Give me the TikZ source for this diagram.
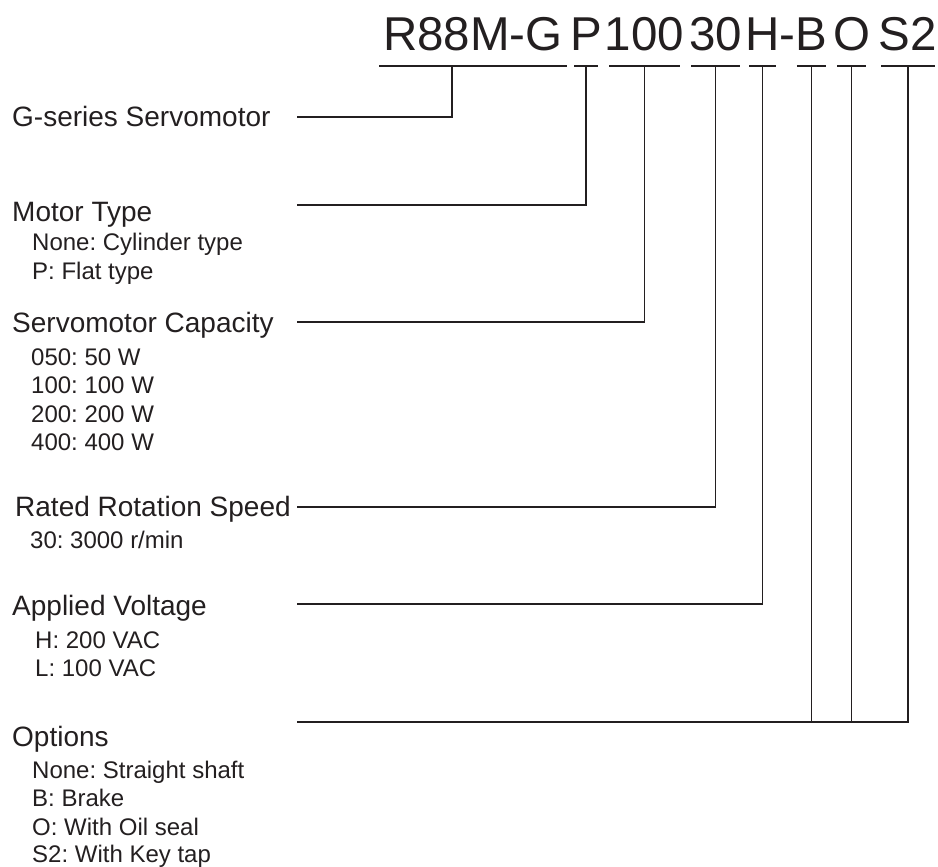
\documentclass[tikz,border=0pt]{standalone}
\usepackage{fontspec}
\setmainfont{Liberation Sans}
\usepackage{tikz}
\definecolor{ink}{HTML}{231F20}
\frenchspacing

\begin{document}
\begin{tikzpicture}[x=1pt, y=-1pt,
  code/.style={anchor=base, inner sep=0pt, font=\fontsize{47.5}{50}\selectfont, text=ink},
  lbl/.style={anchor=base west, inner sep=0pt, font=\fontsize{28}{30}\selectfont, text=ink},
  sub/.style={anchor=base west, inner sep=0pt, font=\fontsize{24}{26}\selectfont, text=ink},
  wire/.style={line width=1.1pt, draw=ink}]
			%%%%% START %%%%%
			\useasboundingbox (0,0) rectangle (938,867);
			
			% model code, one group per field, underlined
			\foreach \nm/\txt/\cx/\w in {R/R88M-G/473/188, P/P/586/24, C/100/644.5/71, S/30/715.5/49, O/O/851.5/29, T/S2/908/54}{
				\node[code] (t\nm) at (\cx,51) {\txt};
				\draw[wire] ([xshift={-0.5*\w pt}, yshift=-15pt]t\nm.base) -- ([xshift={0.5*\w pt}, yshift=-15pt]t\nm.base);
			}
			\node[code] (tHB) at (786.3,51) {H-B};
			\coordinate (tV) at ([xshift=-23.75pt]tHB.base);
			\coordinate (tB) at ([xshift=25.05pt]tHB.base);
			\draw[wire] ([xshift=-13.5pt, yshift=-15pt]tV) -- ([xshift=13.5pt, yshift=-15pt]tV);
			\draw[wire] ([xshift=-14.5pt, yshift=-15pt]tB) -- ([xshift=14.5pt, yshift=-15pt]tB);
			
			% G-series
			\node[lbl] (lblG) at (12,127) {G-series Servomotor};
			\coordinate (jG) at (297,117);
			\draw[wire] (jG) -| ([xshift=-21pt,yshift=-15pt]tR.base);
			
			% motor type
			\node[lbl] (lblM) at (12,221) {Motor Type};
			\node[sub] (subM1) at (32,250) {None: Cylinder type};
			\node[sub] (subM2) at (32,279) {P: Flat type};
			\coordinate (jM) at (297,205);
			\draw[wire] (jM) -| ([yshift=-15pt]tP.base);
			
			% capacity
			\node[lbl] (lblC) at (12,332) {Servomotor Capacity};
			\node[sub] (subC1) at (31,365) {050: 50 W};
			\node[sub] (subC2) at (31,393.5) {100: 100 W};
			\node[sub] (subC3) at (31,422) {200: 200 W};
			\node[sub] (subC4) at (31,450.5) {400: 400 W};
			\coordinate (jC) at (297,322);
			\draw[wire] (jC) -| ([yshift=-15pt]tC.base);
			
			% speed
			\node[lbl] (lblS) at (15,516) {Rated Rotation Speed};
			\node[sub] (subS1) at (30,548) {30: 3000 r/min};
			\coordinate (jS) at (297,507);
			\draw[wire] (jS) -| ([yshift=-15pt]tS.base);
			
			% voltage
			\node[lbl] (lblV) at (12,615) {Applied Voltage};
			\node[sub] (subV1) at (35,648) {H: 200 VAC};
			\node[sub] (subV2) at (35,676.5) {L: 100 VAC};
			\coordinate (jV) at (297,604);
			\draw[wire] (jV) -| ([yshift=-15pt]tV);
			
			% options
			\node[lbl] (lblO) at (12,746) {Options};
			\node[sub] (subO1) at (32,778) {None: Straight shaft};
			\node[sub] (subO2) at (32,806.5) {B: Brake};
			\node[sub] (subO3) at (32,835) {O: With Oil seal};
			\node[sub] (subO4) at (32,862.5) {S2: With Key tap};
			\coordinate (jO) at (297,722);
			\draw[wire] (jO) -| ([yshift=-15pt]tT.base);
			\draw[wire] ([yshift=-15pt]tB) -- (tB |- jO);
			\draw[wire] ([yshift=-15pt]tO.base) -- (tO.base |- jO);
			
			%%%%% END %%%%%
\end{tikzpicture}
\end{document}
